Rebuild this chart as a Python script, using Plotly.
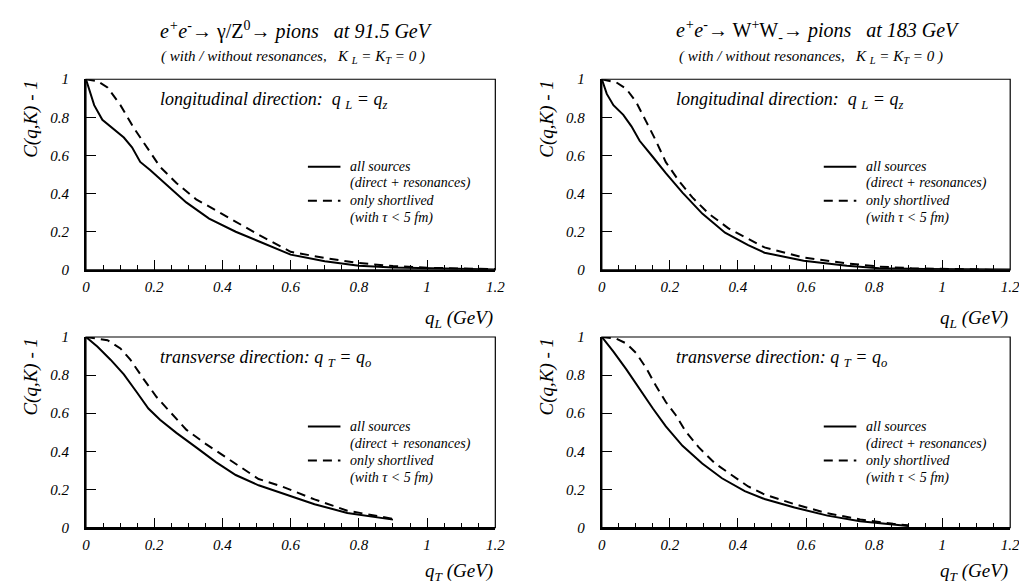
import plotly.graph_objects as go

# ---------------- data ----------------
# top-left: Z0 at 91.5 GeV, longitudinal
z_long_all_x = [0, 0.024, 0.048, 0.072, 0.111, 0.135, 0.159, 0.188, 0.236, 0.294, 0.361, 0.439, 0.506, 0.6, 0.7, 0.8, 0.9, 1.0, 1.1, 1.2]
z_long_all_y = [1.0, 0.864, 0.787, 0.753, 0.694, 0.643, 0.566, 0.524, 0.447, 0.354, 0.269, 0.2, 0.15, 0.08, 0.045, 0.022, 0.013, 0.008, 0.004, 0.002]
z_long_short_x = [0, 0.034, 0.063, 0.101, 0.14, 0.178, 0.217, 0.265, 0.323, 0.39, 0.458, 0.506, 0.6, 0.7, 0.8, 0.9, 1.0, 1.1, 1.2]
z_long_short_y = [1.0, 0.99, 0.957, 0.864, 0.745, 0.643, 0.541, 0.456, 0.37, 0.303, 0.235, 0.184, 0.095, 0.062, 0.036, 0.02, 0.011, 0.006, 0.004]

# top-right: WW at 183 GeV, longitudinal
w_long_all_x = [0, 0.0145, 0.034, 0.063, 0.087, 0.111, 0.15, 0.188, 0.237, 0.295, 0.362, 0.43, 0.478, 0.593, 0.72, 0.815, 0.95, 1.05, 1.15, 1.2]
w_long_all_y = [1.0, 0.923, 0.864, 0.813, 0.753, 0.677, 0.592, 0.507, 0.405, 0.295, 0.195, 0.13, 0.09, 0.048, 0.022, 0.009, 0.004, 0.003, 0.002, 0.002]
w_long_short_x = [0, 0.043, 0.072, 0.101, 0.13, 0.159, 0.188, 0.227, 0.266, 0.314, 0.372, 0.43, 0.478, 0.593, 0.72, 0.815, 0.91, 1.05, 1.144, 1.19]
w_long_short_y = [1.0, 0.983, 0.949, 0.88, 0.779, 0.677, 0.565, 0.465, 0.38, 0.295, 0.218, 0.162, 0.118, 0.065, 0.034, 0.017, 0.0085, 0.004, 0.0, -0.017]

# bottom-left: Z0 at 91.5 GeV, transverse
z_trans_all_x = [0, 0.034, 0.072, 0.111, 0.149, 0.183, 0.217, 0.265, 0.323, 0.381, 0.439, 0.506, 0.573, 0.67, 0.766, 0.843, 0.9]
z_trans_all_y = [1.0, 0.949, 0.881, 0.804, 0.71, 0.625, 0.566, 0.497, 0.421, 0.344, 0.276, 0.222, 0.182, 0.123, 0.077, 0.055, 0.042]
z_trans_short_x = [0, 0.063, 0.101, 0.13, 0.169, 0.207, 0.246, 0.294, 0.352, 0.41, 0.458, 0.506, 0.573, 0.67, 0.766, 0.843, 0.9]
z_trans_short_y = [1.0, 0.983, 0.94, 0.881, 0.779, 0.685, 0.608, 0.514, 0.438, 0.37, 0.315, 0.255, 0.217, 0.148, 0.089, 0.063, 0.046]

# bottom-right: WW at 183 GeV, transverse
w_trans_all_x = [0, 0.034, 0.072, 0.111, 0.15, 0.188, 0.237, 0.295, 0.353, 0.42, 0.478, 0.566, 0.663, 0.759, 0.856, 0.9]
w_trans_all_y = [1.0, 0.923, 0.83, 0.727, 0.625, 0.531, 0.429, 0.336, 0.259, 0.191, 0.15, 0.106, 0.063, 0.033, 0.015, 0.009]
w_trans_short_x = [0, 0.043, 0.072, 0.101, 0.13, 0.159, 0.188, 0.217, 0.246, 0.285, 0.333, 0.382, 0.43, 0.478, 0.566, 0.663, 0.759, 0.856, 0.9]
w_trans_short_y = [1.0, 0.991, 0.966, 0.915, 0.838, 0.744, 0.659, 0.591, 0.506, 0.421, 0.336, 0.276, 0.216, 0.174, 0.123, 0.075, 0.043, 0.02, 0.012]

x_tick_vals = [0, 0.2, 0.4, 0.6, 0.8, 1.0, 1.2]
x_tick_text = ["0", "0.2", "0.4", "0.6", "0.8", "1", "1.2"]
y_tick_vals = [0, 0.2, 0.4, 0.6, 0.8, 1.0]
y_tick_text = ["0", "0.2", "0.4", "0.6", "0.8", "1"]

legend_solid = ["all sources", "(direct + resonances)"]
legend_dashed = ["only shortlived", "(with \u03c4 < 5 fm)"]

title_left = "<i>e<sup>+</sup>e<sup>-</sup></i>\u2192 \u03b3/Z<sup>0</sup>\u2192 <i>pions\u00a0\u00a0\u00a0at 91.5 GeV</i>"
title_right = "<i>e<sup>+</sup>e<sup>-</sup></i>\u2192 W<sup>+</sup>W<sub>-</sub>\u2192 <i>pions\u00a0\u00a0\u00a0at 183 GeV</i>"
subtitle = "<i>( with / without resonances,\u00a0\u00a0\u00a0K <sub>L</sub> = K<sub>T</sub> = 0 )</i>"
label_long = "<i>longitudinal direction:\u00a0\u00a0q <sub>L</sub> = q<sub>z</sub></i>"
label_trans = "<i>transverse direction:\u00a0q <sub>T</sub> = q<sub>o</sub></i>"
ytitle = "<i>C(q,K) - 1</i>"
xtitle_long = "<i>q<sub>L</sub> (GeV)</i>"
xtitle_trans = "<i>q<sub>T</sub> (GeV)</i>"

# ---------------- layout geometry ----------------
W, H = 1027, 586
FONT = "Times New Roman"

def px_x(p):
    return p / W

def px_y(p):
    return 1 - p / H

panels = [
    dict(n="", dx=[75, 490], dy=[65, 261], all=(z_long_all_x, z_long_all_y),
         short=(z_long_short_x, z_long_short_y), label=label_long, xt=xtitle_long,
         xt_y=312, yt_x=19, yt_y=106, leg=[155, 172, 190, 208]),
    dict(n="2", dx=[598, 1012], dy=[65, 261], all=(w_long_all_x, w_long_all_y),
         short=(w_long_short_x, w_long_short_y), label=label_long, xt=xtitle_long,
         xt_y=312, yt_x=542, yt_y=106, leg=[155, 172, 190, 208]),
    dict(n="3", dx=[75, 490], dy=[330, 526], all=(z_trans_all_x, z_trans_all_y),
         short=(z_trans_short_x, z_trans_short_y), label=label_trans, xt=xtitle_trans,
         xt_y=None, yt_x=19, yt_y=371, leg=[422, 440, 457, 475]),
    dict(n="4", dx=[598, 1012], dy=[330, 526], all=(w_trans_all_x, w_trans_all_y),
         short=(w_trans_short_x, w_trans_short_y), label=label_trans, xt=xtitle_trans,
         xt_y=None, yt_x=542, yt_y=371, leg=[422, 440, 457, 475]),
]

fig = go.Figure()
annotations = []
shapes = []

for p in panels:
    n = p["n"]
    xref, yref = "x" + n, "y" + n
    fig.add_trace(go.Scatter(x=p["all"][0], y=p["all"][1], mode="lines",
                             line=dict(color="black", width=2), xaxis=xref, yaxis=yref,
                             showlegend=False, hoverinfo="skip"))
    fig.add_trace(go.Scatter(x=p["short"][0], y=p["short"][1], mode="lines",
                             line=dict(color="black", width=2, dash="9px,6px"),
                             xaxis=xref, yaxis=yref, showlegend=False, hoverinfo="skip"))
    dom_x = [px_x(p["dx"][0]), px_x(p["dx"][1])]
    dom_y = [px_y(p["dy"][1]), px_y(p["dy"][0])]
    tickfont = dict(family=FONT, size=15, color="black", style="italic")
    fig.layout["xaxis" + n] = dict(
        domain=dom_x, range=[0, 1.2], anchor=yref, showgrid=False, zeroline=False,
        showline=True, linewidth=2, linecolor="black", ticks="inside", ticklen=10,
        tickwidth=1, tickcolor="black", tickvals=x_tick_vals, ticktext=x_tick_text,
        tickfont=tickfont, fixedrange=True, ticklabelstandoff=2,
        minor=dict(ticks="inside", ticklen=5, tickwidth=1, tickcolor="black",
                   tick0=0, dtick=0.05, showgrid=False))
    fig.layout["yaxis" + n] = dict(
        domain=dom_y, range=[0, 1], anchor=xref, showgrid=False, zeroline=False,
        showline=True, linewidth=2, linecolor="black", ticks="inside", ticklen=10,
        tickwidth=1, tickcolor="black", tickvals=y_tick_vals, ticktext=y_tick_text,
        tickfont=tickfont, ticklabelstandoff=12, fixedrange=True)
    # frame (top/right)
    shapes.append(dict(type="rect", xref=xref + " domain", yref=yref + " domain",
                       x0=0, x1=1, y0=0, y1=1, line=dict(color="black", width=1.2)))
    w = p["dx"][1] - p["dx"][0]
    h = p["dy"][1] - p["dy"][0]
    def fx(px):
        return (px - p["dx"][0]) / w
    def fy(py):
        return (p["dy"][1] - py) / h
    off = p["dx"][0]
    # direction label
    annotations.append(dict(xref=xref + " domain", yref=yref + " domain",
                            x=fx(off + 73), y=fy(p["dy"][0] + 22), xanchor="left",
                            yanchor="middle", text=p["label"], showarrow=False,
                            font=dict(family=FONT, size=18, color="black")))
    # legend samples
    l1, l2, l3, l4 = p["leg"]
    shapes.append(dict(type="line", xref=xref + " domain", yref=yref + " domain",
                       x0=fx(off + 225), x1=fx(off + 258), y0=fy(l1), y1=fy(l1),
                       line=dict(color="black", width=2)))
    shapes.append(dict(type="line", xref=xref + " domain", yref=yref + " domain",
                       x0=fx(off + 225), x1=fx(off + 258), y0=fy(l3), y1=fy(l3),
                       line=dict(color="black", width=2, dash="9px,6px")))
    for txt, yy in zip(legend_solid + legend_dashed, [l1, l2, l3, l4]):
        annotations.append(dict(xref=xref + " domain", yref=yref + " domain",
                                x=fx(off + 266), y=fy(yy), xanchor="left", yanchor="middle",
                                text="<i>" + txt + "</i>", showarrow=False,
                                font=dict(family=FONT, size=14, color="black")))
    # x axis title
    if p["xt_y"] is None:
        xt_pos = dict(y=0.0, yanchor="bottom")
    else:
        xt_pos = dict(y=px_y(p["xt_y"]), yanchor="middle")
    annotations.append(dict(xref=xref + " domain", yref="paper", x=1, xanchor="right",
                            text=p["xt"], showarrow=False,
                            font=dict(family=FONT, size=19, color="black"), **xt_pos))
    # y axis title
    annotations.append(dict(xref="paper", yref="paper", x=px_x(p["yt_x"]), y=px_y(p["yt_y"]),
                            xanchor="center", yanchor="middle", text=ytitle, textangle=-90,
                            showarrow=False, font=dict(family=FONT, size=19, color="black")))

# titles
for txt, cx, cy, size in [(title_left, 288, 15, 20), (subtitle, 285, 42, 15),
                          (title_right, 817, 15, 20), (subtitle, 810, 42, 15)]:
    annotations.append(dict(xref="paper", yref="paper", x=px_x(cx), y=px_y(cy),
                            xanchor="center", yanchor="middle", text=txt, showarrow=False,
                            font=dict(family=FONT, size=size, color="black")))

fig.update_layout(width=W, height=H, margin=dict(l=0, r=0, t=0, b=0),
                  paper_bgcolor="white", plot_bgcolor="white",
                  annotations=annotations, shapes=shapes, showlegend=False,
                  font=dict(family=FONT, color="black"))

fig.write_html("out.html")
